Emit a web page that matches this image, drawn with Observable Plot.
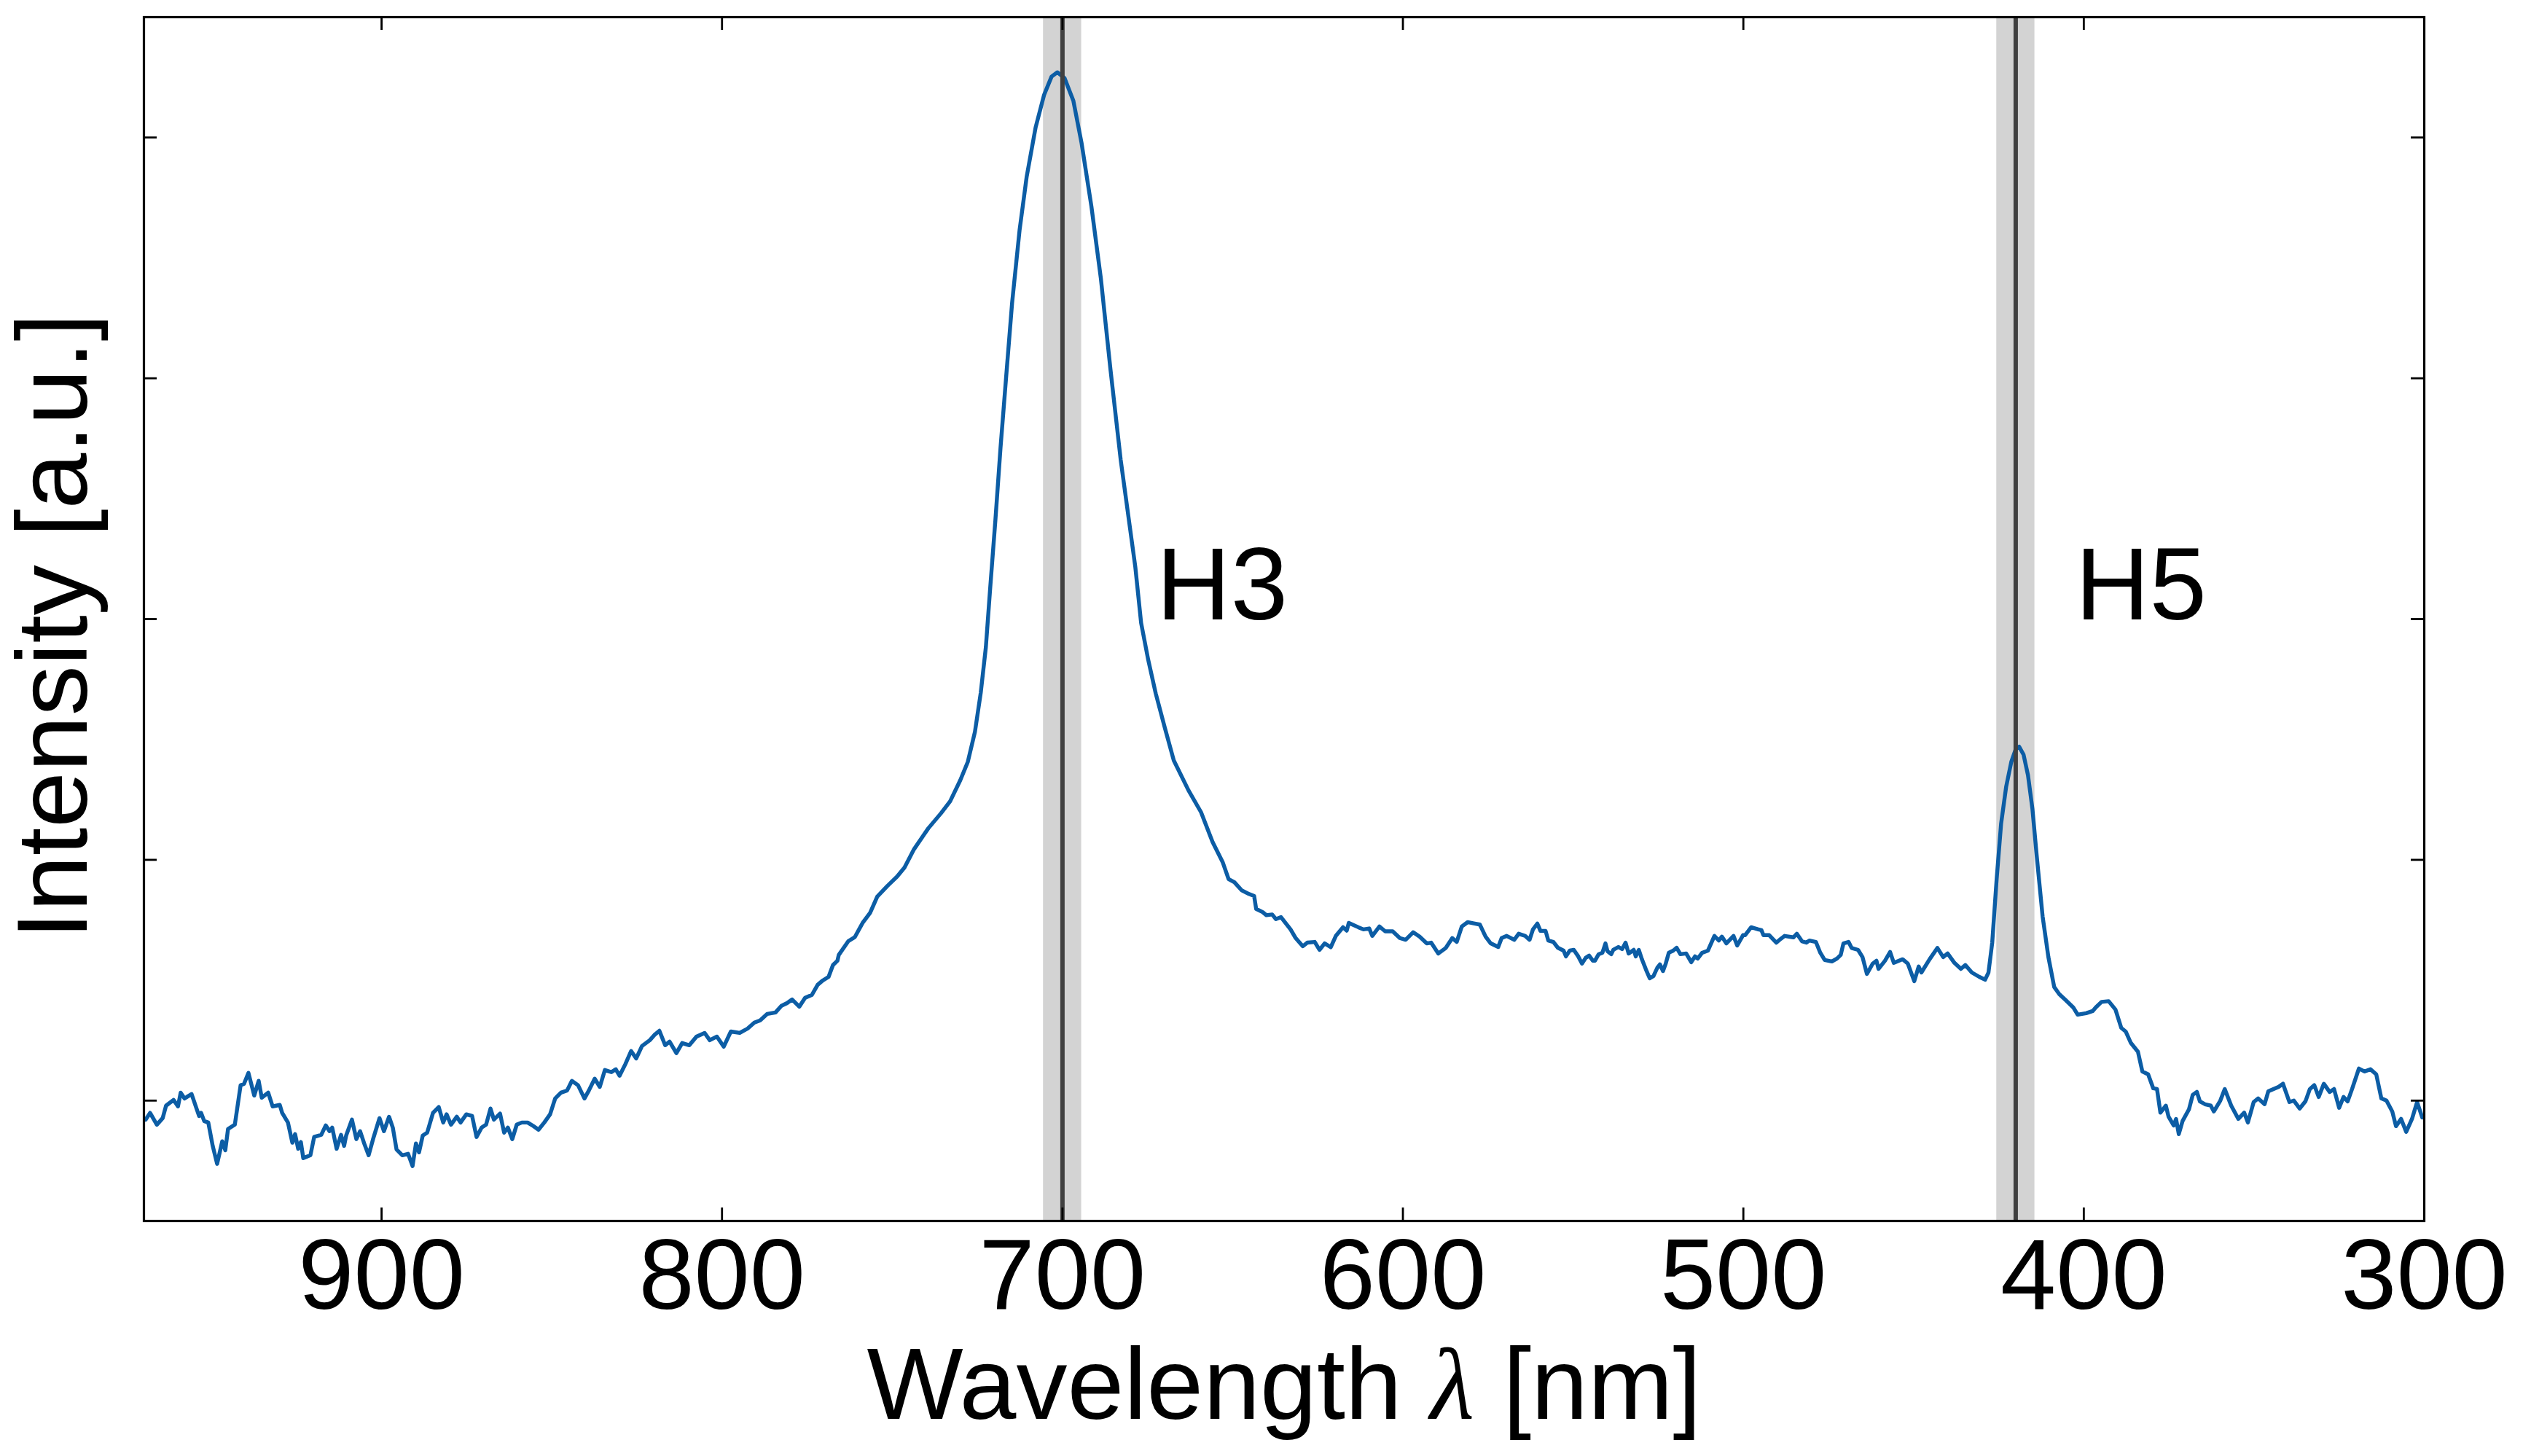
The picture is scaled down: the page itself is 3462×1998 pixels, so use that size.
<!DOCTYPE html>
<html><head><meta charset="utf-8">
<script src="https://cdn.jsdelivr.net/npm/d3@7"></script>
<script src="https://cdn.jsdelivr.net/npm/@observablehq/plot@0.6"></script>
<style>html,body{margin:0;padding:0;background:#fff;} svg{display:block}</style>
</head><body><div id="chart"></div>
<script>
// [wavelength (nm), intensity (a.u.)]
const spectrum = [
[969.3,-0.079],[968.0,-0.051],[966.0,-0.100],[964.3,-0.073],[963.3,-0.021],[961.1,0.003],[959.8,-0.024],[959.0,0.033],[957.9,0.009],[955.8,0.027],[953.6,-0.064],[953.0,-0.051],[952.1,-0.085],[950.9,-0.091],[949.6,-0.188],[948.3,-0.263],[946.8,-0.169],[945.9,-0.206],[945.1,-0.118],[943.1,-0.100],[941.4,0.064],[940.4,0.070],[939.1,0.115],[937.4,0.021],[936.1,0.082],[935.2,0.012],[933.3,0.033],[932.0,-0.024],[929.9,-0.018],[929.2,-0.051],[927.5,-0.091],[926.2,-0.175],[925.4,-0.139],[924.5,-0.200],[923.7,-0.172],[923.0,-0.239],[920.9,-0.227],[919.8,-0.151],[917.7,-0.142],[916.4,-0.103],[915.3,-0.127],[914.5,-0.112],[913.2,-0.200],[911.9,-0.142],[911.0,-0.188],[910.4,-0.145],[908.7,-0.079],[907.4,-0.160],[906.3,-0.127],[905.1,-0.178],[903.8,-0.227],[902.5,-0.160],[900.6,-0.073],[899.3,-0.127],[897.8,-0.067],[896.7,-0.112],[895.6,-0.203],[893.9,-0.227],[892.2,-0.221],[890.9,-0.272],[889.9,-0.178],[889.0,-0.215],[887.9,-0.145],[886.6,-0.133],[884.9,-0.051],[883.2,-0.027],[881.9,-0.091],[880.9,-0.057],[879.6,-0.100],[877.9,-0.067],[876.8,-0.091],[875.1,-0.057],[873.4,-0.064],[872.1,-0.151],[870.6,-0.112],[869.3,-0.100],[868.0,-0.033],[867.0,-0.079],[865.2,-0.054],[864.0,-0.133],[862.9,-0.112],[861.6,-0.160],[860.3,-0.100],[858.8,-0.091],[857.1,-0.091],[855.4,-0.106],[853.9,-0.121],[852.2,-0.091],[850.5,-0.057],[849.0,0.009],[847.3,0.033],[845.5,0.042],[844.1,0.082],[842.3,0.064],[840.4,0.009],[839.1,0.042],[837.4,0.091],[835.9,0.057],[834.4,0.127],[832.5,0.118],[831.2,0.130],[830.1,0.103],[828.4,0.151],[826.7,0.206],[825.2,0.175],[823.5,0.227],[821.2,0.251],[819.9,0.272],[818.4,0.290],[816.7,0.230],[815.4,0.245],[813.4,0.197],[811.7,0.239],[809.6,0.230],[807.5,0.266],[805.1,0.281],[803.6,0.251],[801.5,0.266],[799.5,0.224],[797.4,0.287],[794.8,0.281],[792.5,0.299],[790.5,0.324],[788.8,0.333],[786.7,0.360],[784.3,0.366],[782.6,0.393],[780.9,0.405],[779.4,0.420],[777.3,0.390],[775.6,0.427],[773.6,0.439],[771.9,0.481],[770.4,0.499],[768.7,0.514],[767.4,0.563],[766.1,0.581],
[765.7,0.605],[762.9,0.662],[761.0,0.679],[758.7,0.738],[756.5,0.780],[754.4,0.847],[751.4,0.892],[748.6,0.930],[746.4,0.968],[743.6,1.044],[739.4,1.131],[735.7,1.193],[733.0,1.243],[730.0,1.331],[727.8,1.407],[725.7,1.532],[724.0,1.694],[722.5,1.883],[721.2,2.134],[719.7,2.411],[718.2,2.710],[716.5,3.013],[714.8,3.312],[712.6,3.615],[710.5,3.838],[707.9,4.041],[705.4,4.177],[703.2,4.253],[701.5,4.271],[699.4,4.247],[696.8,4.153],[694.4,3.978],[691.5,3.714],[688.7,3.412],[685.9,3.037],[682.9,2.662],
[678.6,2.216],[676.9,1.984],[674.8,1.830],[672.6,1.691],[670.0,1.552],[667.3,1.413],[663.0,1.289],[659.3,1.198],[655.9,1.074],[652.9,0.989],[651.2,0.920],[649.5,0.907],[647.4,0.874],[645.2,0.858],[643.7,0.850],[643.1,0.796],[641.2,0.783],[640.1,0.770],[638.4,0.773],[637.3,0.754],[635.8,0.762],[633.0,0.711],[631.5,0.675],[629.4,0.641],[628.1,0.656],[625.9,0.659],[624.5,0.626],[623.0,0.653],[621.2,0.637],[619.7,0.684],[617.6,0.720],[616.5,0.706],[615.9,0.738],[613.1,0.720],[611.6,0.711],[609.9,0.715],[609.0,0.684],[606.9,0.723],[605.2,0.703],[603.0,0.703],[600.9,0.675],[599.2,0.668],[597.0,0.699],[595.1,0.681],[593.0,0.653],[591.7,0.656],[589.6,0.611],[587.4,0.634],[585.5,0.675],[584.2,0.659],[582.7,0.723],[581.0,0.741],[578.9,0.735],
[577.4,0.731],[575.7,0.681],[574.2,0.653],[572.0,0.638],[571.0,0.675],[569.5,0.684],[567.3,0.668],[566.0,0.693],[564.1,0.684],[562.8,0.668],[561.8,0.711],[560.5,0.735],[559.6,0.705],[558.1,0.705],[557.3,0.665],[555.8,0.659],[554.5,0.635],[552.8,0.623],[552.1,0.599],[551.0,0.623],[549.8,0.626],[548.5,0.599],[547.4,0.569],[546.3,0.593],[545.3,0.602],[544.2,0.581],[543.6,0.581],[542.5,0.608],[541.4,0.614],[540.5,0.653],[539.9,0.620],[538.8,0.608],[538.2,0.626],[536.7,0.638],[535.6,0.629],[534.6,0.656],[533.7,0.611],[532.2,0.626],[531.6,0.599],[530.7,0.626],[529.8,0.587],[528.6,0.544],[527.5,0.508],[526.4,0.517],[525.3,0.551],[524.5,0.566],[523.6,0.538],[522.8,0.569],[521.9,0.614],[520.6,0.623],[519.6,0.635],[518.5,0.608],[516.8,0.611],[515.3,0.575],[514.2,0.599],[513.4,0.590],[512.1,0.614],[510.4,0.623],[508.5,0.684],[507.2,0.665],[506.3,0.681],[505.0,0.653],[502.9,0.684],[501.8,0.644],[500.1,0.687],[499.5,0.687],[497.7,0.720],[495.6,0.711],[494.7,0.708],[494.1,0.687],[492.4,0.687],[490.3,0.656],[489.0,0.672],[487.9,0.684],[485.3,0.678],[484.3,0.693],[482.8,0.662],[481.5,0.656],[480.6,0.665],[478.7,0.659],[477.4,0.614],[476.1,0.584],[474.0,0.578],[472.5,0.590],[471.4,0.605],[470.6,0.653],
[469.1,0.659],[468.2,0.634],[466.3,0.626],[465.0,0.596],[463.7,0.526],[462.0,0.569],[460.9,0.581],[460.3,0.547],[458.4,0.581],[456.9,0.617],[455.8,0.572],[453.2,0.587],[451.7,0.569],[449.8,0.496],[448.5,0.557],[447.7,0.532],[445.3,0.587],[443.0,0.634],[441.3,0.596],[440.0,0.611],[438.0,0.572],[436.1,0.547],[434.8,0.563],[432.9,0.532],[430.7,0.514],[429.0,0.502],[428.0,0.532],[426.9,0.656],[425.6,0.920],[424.3,1.149],[422.8,1.304],[421.3,1.407],[420.0,1.459],[419.0,1.470],[417.7,1.437],[416.4,1.352],[415.1,1.213],[413.8,1.012],[412.1,0.765],[410.4,0.596],[408.7,0.472],[407.2,0.442],[405.3,0.417],[403.1,0.387],[401.8,0.357],[399.3,0.363],[397.4,0.372],[396.5,0.387],[394.8,0.410],[392.7,0.413],[390.7,0.378],[389.0,0.302],[387.7,0.287],[386.2,0.240],[384.1,0.203],[382.8,0.121],[381.1,0.109],[379.6,0.051],[378.5,0.048],[377.5,-0.050],[375.9,-0.021],[375.1,-0.067],[373.6,-0.103],[372.9,-0.076],[372.1,-0.139],[371.0,-0.085],[369.1,-0.036],[368.0,0.024],[366.8,0.036],[365.9,-0.003],[364.4,-0.015],[362.7,-0.021],[361.8,-0.045],[359.9,0.000],[358.6,0.048],[356.7,-0.021],[354.6,-0.076],[352.9,-0.050],[351.8,-0.091],[350.1,-0.006],[348.8,0.009],[346.9,-0.015],[345.8,0.039],[342.8,0.057],[341.5,0.070],[339.6,-0.006],[338.3,0.000],[336.6,-0.033],[334.9,-0.003],[333.6,0.048],[332.3,0.064],[331.0,0.015],[329.5,0.070],[327.8,0.036],[326.5,0.048],[325.0,-0.030],[323.7,0.015],[322.5,-0.003],[321.2,0.048],[319.2,0.133],[317.5,0.121],[315.8,0.130],[314.1,0.109],[312.6,0.009],[311.1,0.000],[309.4,-0.045],[308.3,-0.106],[306.8,-0.076],[305.3,-0.130],[303.6,-0.076],[302.1,-0.006],[300.6,-0.070]
];
const peakLines = [700, 420];          // nm
const bandHalfWidth = 5.6;             // nm
const annotationNames = ["H3", "H5"];
const annotationX = [672.4, 402.5];    // nm
const annotationY = 2.0;               // a.u.
const xTicks = [900, 800, 700, 600, 500, 400, 300];
const yTicks = [0, 1, 2, 3, 4];
const xDomain = [969.8, 300];
const yDomain = [-0.5, 4.5];
const xLabel = "Wavelength λ [nm]";
const yLabel = "Intensity [a.u.]";

const W = 3462, H = 1998;
const mL = 197, mR = 136, mT = 23, mB = 323;
const innerW = W - mL - mR, innerH = H - mT - mB;
const tickLen = 18;
const font = "'Liberation Sans', Arial, Helvetica, sans-serif";

const chart = Plot.plot({
  width: W, height: H,
  marginLeft: mL, marginRight: mR, marginTop: mT, marginBottom: mB,
  style: {fontFamily: font, background: "white", color: "black", overflow: "visible"},
  x: {domain: xDomain},
  y: {domain: yDomain, axis: null},
  marks: [
    Plot.rect(peakLines, {x1: d => d + bandHalfWidth, x2: d => d - bandHalfWidth, fill: "#d3d3d3"}),
    Plot.line(spectrum, {x: d => d[0], y: d => d[1], stroke: "#0C5DA5", strokeWidth: 5.4, strokeLinejoin: "round", strokeLinecap: "round"}),
    Plot.ruleX(peakLines, {stroke: "#404040", strokeWidth: 6}),
    Plot.text(annotationNames, {x: (d, i) => annotationX[i], y: annotationY, text: d => d, textAnchor: "start", lineAnchor: "bottom", fontSize: 141, fill: "black"}),
    Plot.frame({stroke: "black", strokeWidth: 3.2}),
    Plot.ruleX(xTicks, {insetTop: innerH - tickLen, stroke: "black", strokeWidth: 2.8}),
    Plot.ruleX(xTicks, {insetBottom: innerH - tickLen, stroke: "black", strokeWidth: 2.8}),
    Plot.ruleY(yTicks, {insetRight: innerW - tickLen, stroke: "black", strokeWidth: 2.8}),
    Plot.ruleY(yTicks, {insetLeft: innerW - tickLen, stroke: "black", strokeWidth: 2.8}),
    Plot.axisX({ticks: xTicks, tickSize: 0, tickPadding: 23, fontSize: 137, tickFormat: d => String(d), label: null}),
    Plot.text([xLabel], {frameAnchor: "bottom", dy: 271, textAnchor: "middle", lineAnchor: "bottom", fontSize: 140, fill: "black", text: d => d}),
    Plot.text([yLabel], {frameAnchor: "left", dx: -79, dy: 10, rotate: -90, textAnchor: "middle", lineAnchor: "bottom", fontSize: 138, fill: "black", text: d => d})
  ]
});

// italic lambda in the x label
chart.querySelectorAll("text").forEach(t => {
  if (t.textContent === xLabel) {
    const [a, b] = xLabel.split("λ");
    t.textContent = "";
    const ns = "http://www.w3.org/2000/svg";
    const t1 = document.createElementNS(ns, "tspan"); t1.textContent = a;
    const t2 = document.createElementNS(ns, "tspan"); t2.textContent = "λ";
    t2.setAttribute("font-family", "'Liberation Serif', serif");
    t2.setAttribute("font-style", "italic");
    const t3 = document.createElementNS(ns, "tspan"); t3.textContent = b;
    t.append(t1, t2, t3);
  }
});
document.getElementById("chart").appendChild(chart);
</script>
</body></html>
